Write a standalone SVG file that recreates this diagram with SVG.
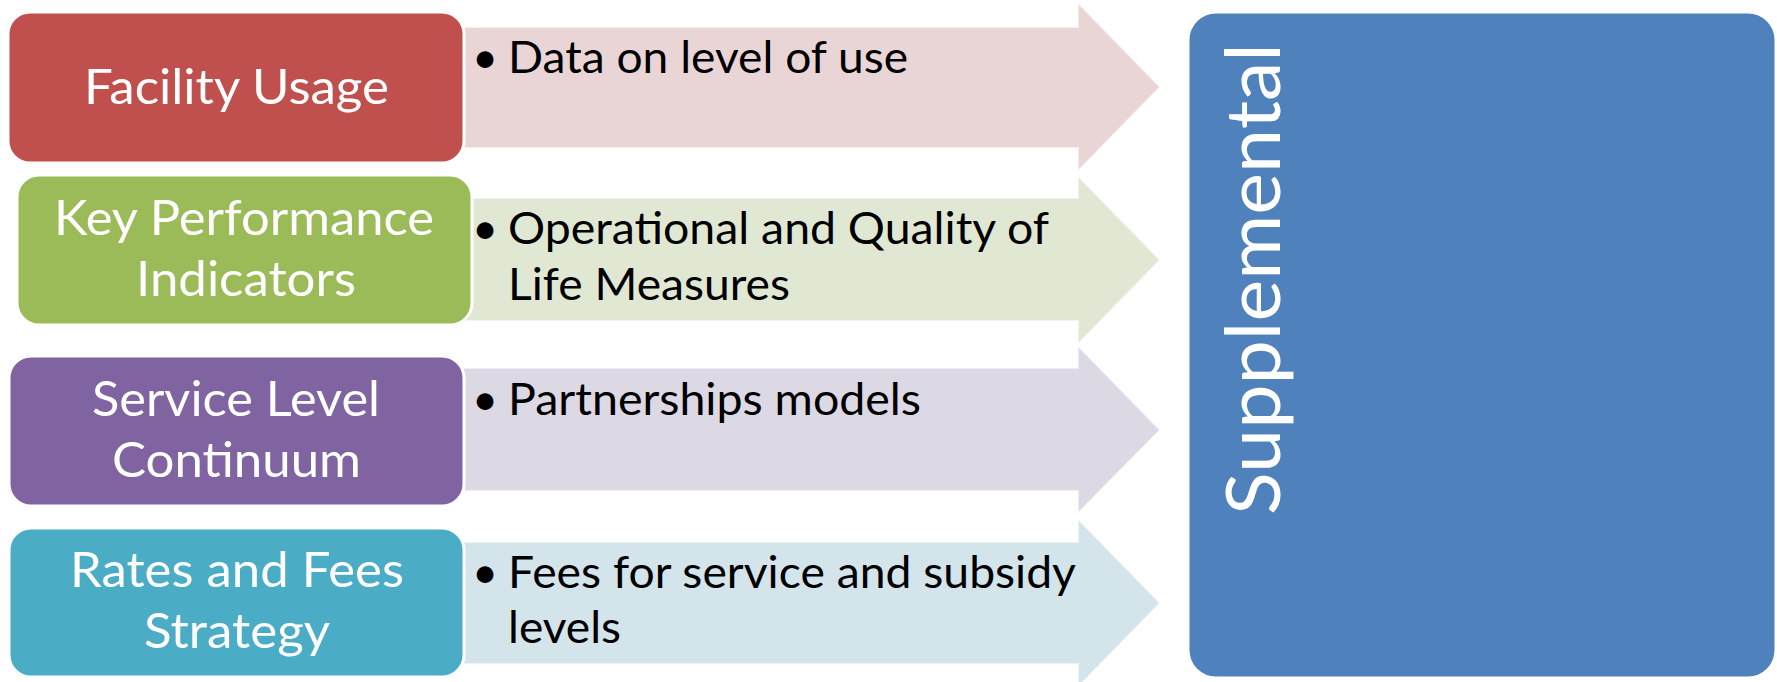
<svg xmlns="http://www.w3.org/2000/svg" width="1777" height="682" viewBox="0 0 1777 682">
<style>
.box{stroke:#FFFFFF;stroke-width:3}
.arrow{stroke:#FFFFFF;stroke-opacity:0.55;stroke-width:2}
.bt{font-family:Lato,"Liberation Sans",sans-serif;font-size:49px;fill:#FFFFFF}
.at{font-family:Lato,"Liberation Sans",sans-serif;font-size:45px;fill:#000000}
.st{font-family:Lato,"Liberation Sans",sans-serif;font-size:75px;fill:#FFFFFF}
</style>
<rect x="0" y="0" width="1777" height="682" fill="#FFFFFF"/>
<g id="arrows">
<g id="arrow-usage">
<path class="arrow" fill="#EAD5D6" d="M440,27 L1078,27 L1078,3 L1160,87 L1078,171 L1078,148 L440,148 Z"/>
<text class="at" x="472" y="73">•</text>
<text class="at" x="508" y="73" textLength="400" lengthAdjust="spacingAndGlyphs">Data on level of use</text>
</g>
<g id="arrow-kpi">
<path class="arrow" fill="#E0E8D4" d="M440,198 L1078,198 L1078,176 L1160,260 L1078,344 L1078,321 L440,321 Z"/>
<text class="at" x="472" y="244">•</text>
<text class="at" x="508" y="244" textLength="541" lengthAdjust="spacingAndGlyphs">Operational and Quality of</text>
<text class="at" x="508" y="300" textLength="282" lengthAdjust="spacingAndGlyphs">Life Measures</text>
</g>
<g id="arrow-service">
<path class="arrow" fill="#DCD8E4" d="M440,368 L1078,368 L1078,346 L1160,430 L1078,513 L1078,491 L440,491 Z"/>
<text class="at" x="472" y="415">•</text>
<text class="at" x="508" y="415" textLength="413" lengthAdjust="spacingAndGlyphs">Partnerships models</text>
</g>
<g id="arrow-rates">
<path class="arrow" fill="#D4E4EB" d="M440,542 L1078,542 L1078,519 L1160,603 L1078,687 L1078,664 L440,664 Z"/>
<text class="at" x="472" y="588">•</text>
<text class="at" x="508" y="588" textLength="568" lengthAdjust="spacingAndGlyphs">Fees for service and subsidy</text>
<text class="at" x="508" y="643" textLength="113" lengthAdjust="spacingAndGlyphs">levels</text>
</g>
</g>
<g id="connectors"></g>
<g id="node-facility-usage">
<rect class="box" x="8" y="12" width="456" height="151" rx="22" fill="#C0504D"/>
<text class="bt" x="84" y="104" textLength="305" lengthAdjust="spacingAndGlyphs">Facility Usage</text>
</g>
<g id="node-kpi">
<rect class="box" x="17" y="175" width="455" height="150" rx="22" fill="#9BBB59"/>
<text class="bt" x="54" y="235" textLength="380" lengthAdjust="spacingAndGlyphs">Key Performance</text>
<text class="bt" x="136" y="296" textLength="220" lengthAdjust="spacingAndGlyphs">Indicators</text>
</g>
<g id="node-service-level">
<rect class="box" x="9" y="356" width="455" height="150" rx="22" fill="#8064A2"/>
<text class="bt" x="92" y="416" textLength="288" lengthAdjust="spacingAndGlyphs">Service Level</text>
<text class="bt" x="112" y="477" textLength="249" lengthAdjust="spacingAndGlyphs">Continuum</text>
</g>
<g id="node-rates-fees">
<rect class="box" x="9" y="528" width="455" height="149" rx="22" fill="#4BACC6"/>
<text class="bt" x="70" y="587" textLength="334" lengthAdjust="spacingAndGlyphs">Rates and Fees</text>
<text class="bt" x="144" y="648" textLength="186" lengthAdjust="spacingAndGlyphs">Strategy</text>
</g>
<g id="node-supplemental">
<rect class="box" x="1188" y="12" width="588" height="666" rx="28" fill="#4F81BD"/>
<text class="st" transform="translate(1280,515) rotate(-90)" x="0" y="0" textLength="472" lengthAdjust="spacingAndGlyphs">Supplemental</text>
</g>
</svg>
